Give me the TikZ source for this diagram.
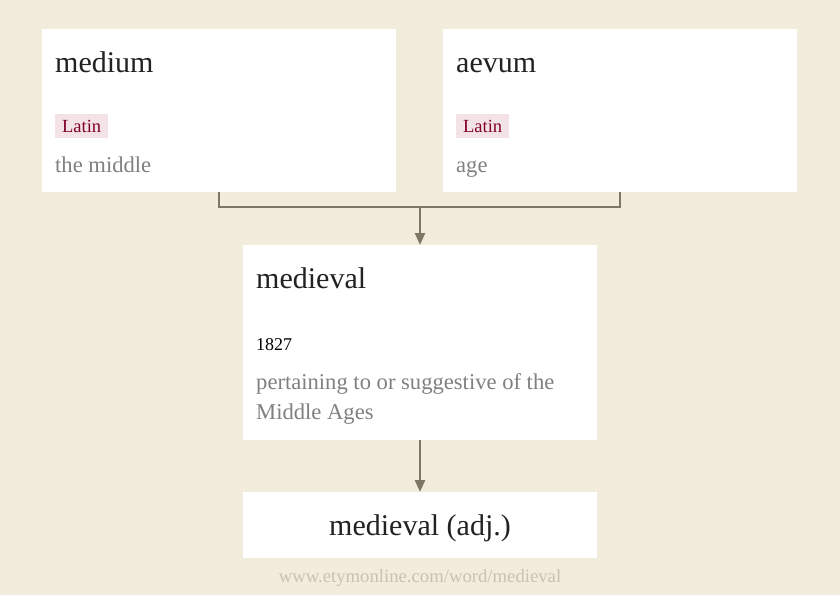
\documentclass[tikz,border=0pt]{standalone}
\usepackage{fontspec}
\setmainfont{Liberation Serif}
\usepackage{tikz}
\usetikzlibrary{positioning, arrows.meta}
\definecolor{pagebg}{RGB}{242,236,220}
\definecolor{wordcol}{RGB}{34,34,34}
\definecolor{glosscol}{RGB}{128,128,128}
\definecolor{tagbg}{RGB}{243,226,230}
\definecolor{tagcol}{RGB}{128,0,38}
\definecolor{linkcol}{RGB}{125,119,102}
\definecolor{urlcol}{RGB}{200,194,180}
\tikzstyle{card} = [rectangle, minimum width=354pt, inner sep=0pt, outer sep=0pt, fill=white]
\tikzstyle{headword} = [anchor=base west, inner sep=0pt, text=wordcol, font=\fontsize{30}{36}\selectfont]
\tikzstyle{langtag} = [rectangle, anchor=north west, minimum width=53pt, minimum height=24.5pt, inner sep=0pt, fill=tagbg, text=tagcol, font=\fontsize{18.5}{22}\selectfont]
\tikzstyle{gloss} = [anchor=base west, inner sep=0pt, align=left, text=glosscol, font=\fontsize{22.6}{30}\selectfont]
\tikzstyle{link} = [line width=2.5pt, draw=linkcol]
\tikzstyle{arrow} = [line width=2.5pt, draw=linkcol, -{Triangle[width=10pt,length=12pt]}]

\begin{document}
\begin{tikzpicture}[x=1pt, y=1pt, node distance=47pt]
		\fill [pagebg] (0,0) rectangle (840,-595);
		\useasboundingbox (0,0) rectangle (840,-595);
		
		\node (medium) [card, minimum height=163pt] at (219,-110.5) {};
		\node (aevum) [card, minimum height=163pt, right=of medium] {};
		\node (medieval) [card, minimum height=195pt] at (420,-342.5) {};
		\node (adj) [card, minimum height=66pt, below=52pt of medieval] {};
		
		\node (mediumword) [headword] at ([xshift=13pt, yshift=-43.7pt]medium.north west) {medium};
		\node (mediumlang) [langtag] at ([xshift=13pt, yshift=-84.7pt]medium.north west) {Latin};
		\node (mediumgloss) [gloss] at ([xshift=13pt, yshift=-143.7pt]medium.north west) {the middle};
		
		\node (aevumword) [headword] at ([xshift=13pt, yshift=-43.7pt]aevum.north west) {aevum};
		\node (aevumlang) [langtag] at ([xshift=13pt, yshift=-84.7pt]aevum.north west) {Latin};
		\node (aevumgloss) [gloss] at ([xshift=13pt, yshift=-143.7pt]aevum.north west) {age};
		
		\node (medievalword) [headword] at ([xshift=13pt, yshift=-43.3pt]medieval.north west) {medieval};
		\node (medievaldate) [anchor=base west, inner sep=0pt, text=black, font=\fontsize{18}{22}\selectfont] at ([xshift=13pt, yshift=-105pt]medieval.north west) {1827};
		% base anchor sits on the last line
		\node (medievalgloss) [gloss] at ([xshift=13pt, yshift=-174pt]medieval.north west) {pertaining to or suggestive of the\\Middle Ages};
		
		\node (adjword) [headword, anchor=base] at ([yshift=-10.2pt]adj.center) {medieval (adj.)};
		\node (url) [anchor=base, inner sep=0pt, text=urlcol, font=\fontsize{18.7}{22}\selectfont] at ([yshift=-24pt]adj.south) {www.etymonline.com/word/medieval};
		
		\coordinate (join) at (420,-207);
		\draw [link] (medium.south) |- (join) -| (aevum.south);
		\draw [arrow] (join) -- (medieval.north);
		\draw [arrow] (medieval.south) -- (adj.north);
		\end{tikzpicture}
\end{document}
